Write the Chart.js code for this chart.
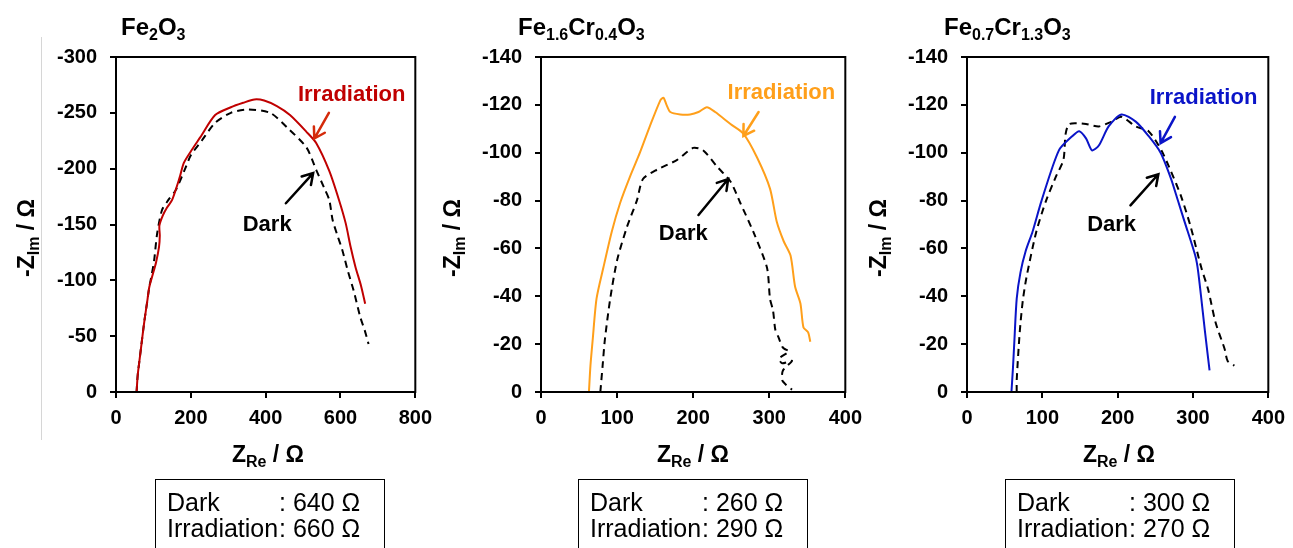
<!DOCTYPE html>
<html>
<head>
<meta charset="utf-8">
<script src="https://cdn.jsdelivr.net/npm/chart.js@4.4.1/dist/chart.umd.min.js"></script>
<style>
  body { margin: 0; background: #fff; }
  #page { position: relative; width: 1293px; height: 548px; overflow: hidden; font-family: Arial, "Liberation Sans", sans-serif; color: #000; }
  canvas { position: absolute; top: 0; }
  .title { position: absolute; top: 15px; font-weight: bold; font-size: 24px; line-height: 24px; white-space: nowrap; }
  .title .sub { font-size: 16px; top: 5px; }
  .sub { font-size: 16px; position: relative; top: 5px; }
  .xtitle { position: absolute; top: 443px; width: 200px; text-align: center; font-weight: bold; font-size: 23px; line-height: 23px; white-space: nowrap; }
  .ytitle { position: absolute; width: 140px; height: 24px; text-align: center; font-weight: bold; font-size: 23px; line-height: 24px; white-space: nowrap; transform: rotate(-90deg); }
  .rbox { position: absolute; top: 479px; width: 230px; height: 90px; border: 1.5px solid #000; box-sizing: border-box; padding: 9px 0 0 11px; font-size: 25px; line-height: 26px; white-space: nowrap; }
  .lbl { display: inline-block; width: 112px; }
  #edge { position: absolute; left: 41px; top: 37px; width: 1px; height: 403px; background: #d6d6d6; }
</style>
</head>
<body>
<div id="page">
  <div id="edge"></div>
  <canvas id="chart1" width="440" height="548" style="left:0px"></canvas>
  <canvas id="chart2" width="440" height="548" style="left:430px"></canvas>
  <canvas id="chart3" width="437" height="548" style="left:856px"></canvas>

  <div class="title" style="left:121px">Fe<span class="sub">2</span>O<span class="sub">3</span></div>
  <div class="title" style="left:518px">Fe<span class="sub">1.6</span>Cr<span class="sub">0.4</span>O<span class="sub">3</span></div>
  <div class="title" style="left:944px">Fe<span class="sub">0.7</span>Cr<span class="sub">1.3</span>O<span class="sub">3</span></div>

  <div class="ytitle" style="left:-44px; top:226px">-Z<span class="sub">Im</span> / Ω</div>
  <div class="ytitle" style="left:382px; top:226px">-Z<span class="sub">Im</span> / Ω</div>
  <div class="ytitle" style="left:808px; top:226px">-Z<span class="sub">Im</span> / Ω</div>

  <div class="xtitle" style="left:168px">Z<span class="sub">Re</span> / Ω</div>
  <div class="xtitle" style="left:593px">Z<span class="sub">Re</span> / Ω</div>
  <div class="xtitle" style="left:1019px">Z<span class="sub">Re</span> / Ω</div>

  <div class="rbox" id="box1" style="left:155px"></div>
  <div class="rbox" id="box2" style="left:578px"></div>
  <div class="rbox" id="box3" style="left:1005px"></div>
</div>

<script>
// Fe2O3
const fe2o3IrrRe = [55, 58, 63, 70, 76, 83, 89, 98, 107, 115, 117, 116, 125, 136, 150, 170, 181, 199, 225, 265, 307, 340, 370, 396, 430, 465, 509, 535, 570, 596, 614, 627, 640, 655, 666];
const fe2o3IrrIm = [0, -15, -29, -48, -64, -80, -94, -105, -116, -130, -140, -149, -158, -165, -172, -192, -205, -215, -228, -248, -255, -259, -262, -261, -256, -248, -233, -223, -198, -172, -151, -130, -112, -95, -79];
const fe2o3DarkRe = [55, 58, 63, 70, 76, 83, 89, 96, 102, 110, 123, 140, 160, 186, 200, 229, 265, 307, 352, 412, 457, 509, 535, 556, 570, 579, 592, 605, 620, 635, 653, 665, 675];
const fe2o3DarkIm = [0, -15, -29, -48, -64, -80, -94, -106, -118, -142, -163, -172, -181, -201, -212, -225, -241, -250, -253, -250, -237, -219, -199, -183, -172, -154, -140, -127, -108, -91, -67, -55, -43];
const fe2o3XTicks = [0, 200, 400, 600, 800];
const fe2o3YTicks = [-300, -250, -200, -150, -100, -50, 0];

// Fe1.6Cr0.4O3
const fe16IrrRe = [63, 65, 68, 73, 82, 93, 104, 117, 130, 143, 157, 161, 165, 170, 183, 196, 207, 218, 229, 249, 266, 284, 301, 310, 319, 328, 334, 341, 345, 351, 354];
const fe16IrrIm = [0, -11, -22, -39, -52, -67, -79, -90, -100, -111, -122, -123, -120, -117, -116, -116, -117, -119, -117, -112, -108, -98, -85, -71, -63, -57, -44, -37, -27, -25, -21];
const fe16DarkRe = [78, 81, 84, 91, 100, 113, 126, 134, 153, 179, 200, 213, 232, 249, 262, 279, 297, 301, 305, 308, 312, 317, 320, 326, 313, 317, 330, 318, 317, 322, 330];
const fe16DarkIm = [0, -11, -22, -39, -55, -69, -80, -89, -93, -97, -102, -101, -94, -88, -79, -67, -52, -39, -34, -26, -23, -19, -18, -17, -14, -12, -13, -9, -5, -3, -1];

// Fe0.7Cr1.3O3
const fe07IrrRe = [59, 61, 63, 66, 71, 78, 87, 99, 122, 140, 149, 158, 166, 175, 188, 205, 224, 241, 257, 271, 280, 289, 303, 307, 316, 322];
const fe07IrrIm = [0, -10, -22, -39, -50, -59, -67, -80, -101, -107, -109, -106, -101, -103, -111, -116, -113, -107, -100, -89, -80, -71, -57, -50, -25, -9];
const fe07DarkRe = [66, 66, 70, 74, 79, 92, 105, 118, 128, 131, 136, 158, 175, 192, 205, 224, 241, 258, 271, 284, 297, 311, 320, 330, 342, 346, 355];
const fe07DarkIm = [0, -5, -25, -38, -48, -67, -80, -90, -97, -108, -112, -112, -111, -113, -115, -111, -109, -101, -92, -82, -69, -52, -43, -29, -18, -13, -11];

const crXTicks = [0, 100, 200, 300, 400];
const crYTicks = [-140, -120, -100, -80, -60, -40, -20, 0];

// charge-transfer resistances listed in the boxes
const darkResistance = [640, 260, 300];
const irrResistance = [660, 290, 270];

function toPoints(xs, ys) {
  return xs.map(function (x, i) {
    return { x: x, y: ys[i] };
  });
}

const tickFont = { family: "Arial, 'Liberation Sans', sans-serif", weight: "bold", size: 20 };

// closes the plot box on top and right
const framePlugin = {
  id: "frame",
  afterDatasetsDraw(chart) {
    const a = chart.chartArea;
    const ctx = chart.ctx;
    ctx.save();
    ctx.strokeStyle = "#000";
    ctx.lineWidth = 2;
    ctx.strokeRect(a.left, a.top, a.right - a.left, a.bottom - a.top);
    ctx.restore();
  }
};

// "Irradiation" / "Dark" labels and their arrows, placed in data units
const notesPlugin = {
  id: "notes",
  afterDraw(chart, args, opts) {
    const ctx = chart.ctx;
    const xs = chart.scales.x;
    const ys = chart.scales.y;
    ctx.save();
    ctx.font = "bold 22px Arial, 'Liberation Sans', sans-serif";
    ctx.textAlign = "center";
    ctx.textBaseline = "middle";
    (opts.labels || []).forEach(function (l) {
      ctx.fillStyle = l.color;
      ctx.fillText(l.text, xs.getPixelForValue(l.x), ys.getPixelForValue(l.y));
    });
    (opts.arrows || []).forEach(function (a) {
      const x1 = xs.getPixelForValue(a.from[0]);
      const y1 = ys.getPixelForValue(a.from[1]);
      const x2 = xs.getPixelForValue(a.to[0]);
      const y2 = ys.getPixelForValue(a.to[1]);
      const ang = Math.atan2(y2 - y1, x2 - x1);
      const head = 12;
      ctx.strokeStyle = a.color;
      ctx.lineWidth = 2.5;
      ctx.lineCap = "round";
      ctx.beginPath();
      ctx.moveTo(x1, y1);
      ctx.lineTo(x2, y2);
      ctx.moveTo(x2 - head * Math.cos(ang - 0.55), y2 - head * Math.sin(ang - 0.55));
      ctx.lineTo(x2, y2);
      ctx.lineTo(x2 - head * Math.cos(ang + 0.55), y2 - head * Math.sin(ang + 0.55));
      ctx.stroke();
    });
    ctx.restore();
  }
};

function makePanel(cfg) {
  return new Chart(document.getElementById(cfg.id), {
    type: "scatter",
    data: {
      datasets: [
        {
          data: toPoints(cfg.irrRe, cfg.irrIm),
          borderColor: cfg.color,
          borderWidth: 2,
          showLine: true,
          pointRadius: 0,
          tension: 0.25
        },
        {
          data: toPoints(cfg.darkRe, cfg.darkIm),
          borderColor: "#000",
          borderWidth: 2,
          borderDash: [7, 5],
          showLine: true,
          pointRadius: 0,
          tension: 0.25
        }
      ]
    },
    options: {
      responsive: false,
      animation: false,
      events: [],
      layout: { padding: { left: 0, top: 57, right: cfg.padRight, bottom: 0 } },
      plugins: {
        legend: { display: false },
        tooltip: { enabled: false },
        notes: cfg.notes
      },
      scales: {
        x: {
          type: "linear",
          min: cfg.xTicks[0],
          max: cfg.xTicks[cfg.xTicks.length - 1],
          afterBuildTicks: function (s) { s.ticks = cfg.xTicks.map(function (v) { return { value: v }; }); },
          afterFit: function (s) { s.height = 156; },
          ticks: { color: "#000", font: tickFont, padding: 8, maxRotation: 0, autoSkip: false },
          grid: { drawOnChartArea: false, tickLength: 6, color: "#000", lineWidth: 2 },
          border: { color: "#000", width: 2 }
        },
        y: {
          type: "linear",
          reverse: true,
          min: cfg.yTicks[0],
          max: 0,
          afterBuildTicks: function (s) { s.ticks = cfg.yTicks.map(function (v) { return { value: v }; }); },
          afterFit: function (s) { s.width = cfg.yWidth; },
          ticks: { color: "#000", font: tickFont, padding: 13, autoSkip: false },
          grid: { drawOnChartArea: false, tickLength: 6, color: "#000", lineWidth: 2 },
          border: { color: "#000", width: 2 }
        }
      }
    },
    plugins: [framePlugin, notesPlugin]
  });
}

makePanel({
  id: "chart1", color: "#c00000", yWidth: 116, padRight: 19,
  irrRe: fe2o3IrrRe, irrIm: fe2o3IrrIm, darkRe: fe2o3DarkRe, darkIm: fe2o3DarkIm,
  xTicks: fe2o3XTicks, yTicks: fe2o3YTicks,
  notes: {
    labels: [{ text: "Irradiation", x: 630, y: -266, color: "#c00000" }, { text: "Dark", x: 404, y: -150, color: "#000" }],
    arrows: [{ from: [569, -250], to: [530, -227], color: "#d42a0a" }, { from: [454, -169], to: [527, -196], color: "#000" }]
  }
});

makePanel({
  id: "chart2", color: "#ff9f1a", yWidth: 111, padRight: 24,
  irrRe: fe16IrrRe, irrIm: fe16IrrIm, darkRe: fe16DarkRe, darkIm: fe16DarkIm,
  xTicks: crXTicks, yTicks: crYTicks,
  notes: {
    labels: [{ text: "Irradiation", x: 316, y: -125, color: "#ff9f1a" }, { text: "Dark", x: 187, y: -66, color: "#000" }],
    arrows: [{ from: [286, -117], to: [266, -107], color: "#ff9f1a" }, { from: [207, -74], to: [246, -89], color: "#000" }]
  }
});

makePanel({
  id: "chart3", color: "#0a14c8", yWidth: 111, padRight: 21,
  irrRe: fe07IrrRe, irrIm: fe07IrrIm, darkRe: fe07DarkRe, darkIm: fe07DarkIm,
  xTicks: crXTicks, yTicks: crYTicks,
  notes: {
    labels: [{ text: "Irradiation", x: 314, y: -123, color: "#0a14c8" }, { text: "Dark", x: 192, y: -70, color: "#000" }],
    arrows: [{ from: [276, -115], to: [257, -104], color: "#0a14c8" }, { from: [217, -78], to: [254, -91], color: "#000" }]
  }
});

["box1", "box2", "box3"].forEach(function (id, i) {
  document.getElementById(id).innerHTML =
    '<span class="lbl">Dark</span>: ' + darkResistance[i] + ' Ω<br>' +
    '<span class="lbl">Irradiation</span>: ' + irrResistance[i] + ' Ω';
});
</script>
</body>
</html>
